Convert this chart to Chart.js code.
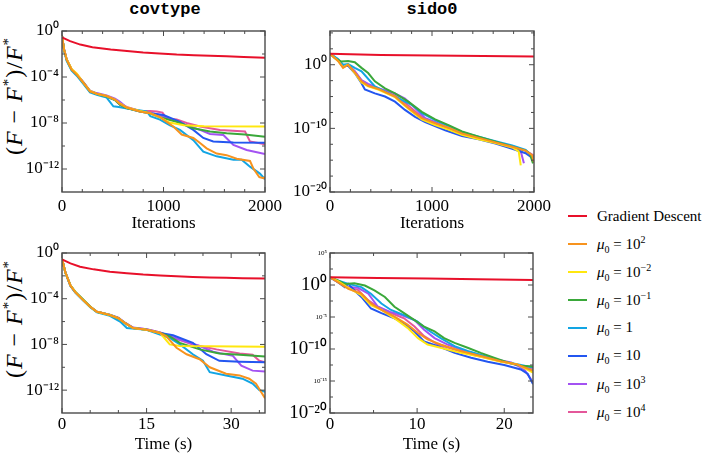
<!DOCTYPE html>
<html>
<head>
<meta charset="utf-8">
<script src="https://cdn.jsdelivr.net/npm/chart.js@4.4.1/dist/chart.umd.min.js"></script>
<style>
  html, body { margin: 0; padding: 0; background: #fff; }
  #fig { position: relative; width: 705px; height: 458px; overflow: hidden;
         font-family: 'Liberation Serif', 'Times New Roman', serif; color: #000; }
  .panel { position: absolute; }
  .ttl { position: absolute; top: 0; transform: translateX(-50%);
         font-family: 'Liberation Mono', monospace; font-size: 17px; font-weight: bold; }
  .ylab { position: absolute; font-size: 24px; letter-spacing: 1px; white-space: nowrap;
          transform: translate(-50%, -50%) rotate(-90deg); }
  .ylab sup { font-size: 15px; font-style: normal; }
  #legend { position: absolute; left: 568px; top: 202px; }
  .item { height: 28px; display: flex; align-items: center; font-size: 15px; white-space: nowrap; }
  .swatch { width: 19px; height: 2px; margin-right: 10px; }
  .item sup { font-size: 10px; }
  .item sub { font-size: 10px; }
</style>
</head>
<body>
<div id="fig">
  <div class="ttl" style="left:165px">covtype</div>
  <div class="ttl" style="left:432px">sido0</div>
  <div class="ylab" style="left:14px; top:96px">(<i>F</i> − <i>F</i><sup>*</sup>)/<i>F</i><sup>*</sup></div>
  <div class="ylab" style="left:14px; top:319px">(<i>F</i> − <i>F</i><sup>*</sup>)/<i>F</i><sup>*</sup></div>
  <canvas class="panel" id="tl" width="295" height="240" style="left:0;top:0"></canvas>
  <canvas class="panel" id="tr" width="295" height="240" style="left:272px;top:0"></canvas>
  <canvas class="panel" id="bl" width="295" height="236" style="left:0;top:222px"></canvas>
  <canvas class="panel" id="br" width="295" height="236" style="left:272px;top:222px"></canvas>
  <div id="legend"></div>
</div>
<script>
// ── series names + colours (legend order = draw order) ──
const seriesNames = ['Gradient Descent', '<i>μ</i><sub>0</sub> = 10<sup>2</sup>', '<i>μ</i><sub>0</sub> = 10<sup>−2</sup>',
  '<i>μ</i><sub>0</sub> = 10<sup>−1</sup>', '<i>μ</i><sub>0</sub> = 1', '<i>μ</i><sub>0</sub> = 10',
  '<i>μ</i><sub>0</sub> = 10<sup>3</sup>', '<i>μ</i><sub>0</sub> = 10<sup>4</sup>'];
const seriesColors = ['#e8102a', '#f7931e', '#ffe70f', '#3aa83a', '#12a5e3', '#2356f0', '#a352f2', '#e4579a'];

// ── covtype, vs iterations: [iteration, (F-F*)/F*] ──
const covIterGD = [[0,0.28],[80,0.13],[180,0.066],[300,0.039],[480,0.0245],[640,0.0178],[800,0.0132],[960,0.011],[1130,0.0089],[1300,0.0079],[1460,0.0069],[1620,0.0063],[1790,0.0056],[2000,0.0047]];
const covIterMu2 = [[0,0.4],[20,0.025],[46,3.2e-3],[95,4.4e-4],[145,1.6e-4],[210,3.2e-5],[276,5.6e-6],[342,3.5e-6],[440,2.2e-6],[522,1.1e-6],[571,4.5e-7],[637,2.2e-7],[768,1e-7],[867,7.1e-8],[965,3.2e-8],[1097,5e-9],[1179,1e-9],[1294,5e-10],[1360,1.8e-10],[1425,6.3e-11],[1524,2.2e-11],[1622,1.6e-11],[1721,7.9e-12],[1852,5e-12],[1885,1.1e-12],[1944,2e-13],[1984,1.6e-13],[2000,2e-13]];
const covIterMum2 = [[0,0.4],[20,0.025],[46,3.5e-3],[95,5e-4],[145,2e-4],[210,3.2e-5],[276,6.3e-6],[342,3.5e-6],[440,2.2e-6],[522,1.1e-6],[571,5e-7],[637,2.2e-7],[768,1.1e-7],[870,7.1e-8],[960,3.2e-8],[1060,1.1e-8],[1200,6.3e-9],[1400,5.2e-9],[2000,5e-9]];
const covIterMum1 = [[0,0.4],[20,0.025],[46,3.2e-3],[95,4.4e-4],[145,1.6e-4],[210,3.2e-5],[276,5.6e-6],[342,3.5e-6],[440,2e-6],[522,1e-6],[571,4e-7],[637,2e-7],[768,1e-7],[867,7.1e-8],[965,3.2e-8],[1130,1.26e-8],[1294,3.5e-9],[1458,1.8e-9],[1622,1.26e-9],[1800,1e-9],[2000,6.3e-10]];
const covIterMu1 = [[0,0.4],[20,0.02],[46,2.5e-3],[95,3.5e-4],[145,1.3e-4],[210,2.5e-5],[276,4.5e-6],[342,2.8e-6],[440,1.6e-6],[506,2.8e-7],[560,2.5e-7],[640,1.8e-7],[834,1e-7],[870,4e-8],[965,2e-8],[1064,6.3e-9],[1162,2.5e-9],[1294,3.2e-10],[1392,3.2e-11],[1524,1.26e-11],[1688,6.3e-12],[1770,6.3e-12],[1852,1.6e-12],[1950,4e-13],[2000,1.26e-13]];
const covIterMu10 = [[0,0.4],[20,0.025],[46,3.2e-3],[95,4.4e-4],[145,1.6e-4],[210,3.2e-5],[276,5.6e-6],[342,3.5e-6],[440,2e-6],[522,1e-6],[571,4e-7],[637,2e-7],[768,1e-7],[867,7.1e-8],[1000,5e-8],[1162,1.26e-8],[1294,2.5e-9],[1392,5e-10],[1490,2.5e-10],[1688,2e-10],[2000,1.9e-10]];
const covIterMu3 = [[0,0.4],[20,0.025],[46,3.2e-3],[95,4.4e-4],[145,1.6e-4],[210,3.5e-5],[276,6.3e-6],[342,4e-6],[440,2.5e-6],[522,1.3e-6],[571,7e-7],[637,2.2e-7],[768,1.1e-7],[867,7.9e-8],[965,5e-8],[1228,6.3e-9],[1360,2.5e-9],[1458,1.1e-9],[1590,8.9e-10],[1688,1.26e-10],[1819,4.5e-11],[2000,2e-11]];
const covIterMu4 = [[0,0.4],[20,0.028],[46,3.5e-3],[95,4.4e-4],[145,1.8e-4],[210,3.5e-5],[276,6.3e-6],[342,3.5e-6],[440,2.2e-6],[522,1.1e-6],[571,5e-7],[637,2.5e-7],[768,1.1e-7],[867,1.1e-7],[933,1e-7],[990,8e-8],[1030,2.5e-8],[1130,2e-8],[1228,1e-8],[1360,5e-9],[1557,2.5e-9],[1803,1.8e-9],[1852,2.5e-10],[2000,1.4e-10]];

// ── sido0, vs iterations ──
const sidoIterGD = [[0,55],[500,35],[1000,28],[1500,23],[2000,20]];
const sidoIterMu2 = [[0,55],[79,4],[128,0.32],[177,1],[243,0.063],[309,2.5e-3],[374,5e-4],[473,1.58e-4],[637,1e-5],[768,1.58e-7],[900,4e-9],[1031,6.3e-10],[1162,1.26e-10],[1294,1.58e-11],[1458,3.2e-12],[1622,6.3e-13],[1786,1.26e-13],[1918,3.2e-14],[1980,6.3e-15],[2000,5e-16]];
const sidoIterMum2 = [[0,55],[79,4],[128,0.4],[177,1],[243,0.05],[309,1.58e-3],[374,4e-4],[473,1.26e-4],[637,7.9e-6],[768,1.26e-7],[900,2.5e-9],[1031,3.2e-10],[1162,6.3e-11],[1294,1e-11],[1458,2e-12],[1622,5e-13],[1786,1e-13],[1850,2.5e-14],[1870,1.58e-16]];
const sidoIterMum1 = [[0,55],[46,11.2],[112,3.16],[177,4],[243,2.5],[309,0.32],[374,0.05],[440,2.5e-3],[539,2e-4],[637,3.2e-5],[768,1.58e-6],[900,4e-8],[1031,2.5e-9],[1162,3.2e-10],[1294,3.2e-11],[1458,5e-12],[1622,7.9e-13],[1786,1.26e-13],[1918,3.2e-14],[1960,1e-14],[1990,3.2e-16]];
const sidoIterMu1 = [[0,55],[79,7.9],[128,1],[177,1.26],[243,0.32],[309,0.089],[440,4e-4],[637,1e-5],[801,5e-7],[900,2.5e-8],[1031,2e-9],[1162,2.5e-10],[1294,2.5e-11],[1458,5e-12],[1622,1e-12],[1786,2e-13],[1918,4e-14],[2000,2.5e-15]];
const sidoIterMu10 = [[0,55],[79,6.3],[128,0.55],[177,0.69],[243,0.05],[309,1.26e-3],[342,1.26e-4],[440,3.2e-5],[539,1e-5],[637,1.58e-6],[735,7.9e-8],[834,6.3e-9],[933,1e-9],[1130,5e-11],[1294,6.3e-12],[1458,2e-12],[1622,4e-13],[1786,6.3e-14],[1918,1.26e-14],[1970,3.2e-15],[2000,1e-15]];
const sidoIterMu3 = [[0,55],[79,5],[128,0.5],[177,1],[243,0.1],[309,4e-3],[374,1e-3],[473,2e-4],[637,3.2e-5],[735,5e-6],[834,1.58e-7],[933,4e-9],[1031,1e-9],[1162,1.26e-10],[1294,1.58e-11],[1458,3.2e-12],[1622,7.9e-13],[1786,1.26e-13],[1870,2.5e-14],[1901,3.2e-16]];
const sidoIterMu4 = [[0,55],[79,5],[128,0.63],[177,1],[243,0.079],[309,3.2e-3],[374,6.3e-4],[473,1.58e-4],[637,1.58e-5],[768,4e-7],[900,6.3e-9],[1031,6.3e-10],[1162,1e-10],[1294,1.26e-11],[1458,3.2e-12],[1622,6.3e-13],[1786,1.58e-13],[1918,3.2e-14],[2000,5e-15]];

// ── covtype, vs time (s) ──
const covTimeGD = [[0,0.27],[1.5,0.123],[3.2,0.063],[5.6,0.037],[8.5,0.0234],[11.5,0.017],[14.4,0.0129],[17.4,0.0107],[20.3,0.0093],[23.2,0.0081],[26.2,0.0072],[29.1,0.0068],[32,0.0063],[36,0.0059]];
const covTimeMu2 = [[0,0.31],[0.6,1.95e-2],[1.5,1.38e-3],[2.35,3.7e-4],[3.8,7.2e-5],[5,1.95e-5],[6.2,7.2e-6],[7,6e-6],[8.5,3.7e-6],[10,1.95e-6],[11.2,7.2e-7],[12.6,2.7e-7],[15,1.95e-7],[17.4,1e-7],[18.5,5.1e-8],[20.3,5.1e-9],[22.1,1.38e-9],[24.4,5.1e-10],[26.2,1e-10],[29.1,2.7e-11],[31.5,1.95e-11],[33.2,1e-11],[34.4,3.7e-12],[36,1.95e-13]];
const covTimeMum2 = [[0,0.31],[0.6,1.95e-2],[1.5,1.5e-3],[2.35,4e-4],[3.8,7.2e-5],[5,1.95e-5],[6.2,7.2e-6],[8.5,3.7e-6],[10,1.95e-6],[11.2,7.2e-7],[12.6,2.7e-7],[15,1.95e-7],[17.4,1e-7],[19.1,1e-8],[20.9,7.2e-9],[36,6.3e-9]];
const covTimeMum1 = [[0,0.31],[0.6,1.95e-2],[1.5,1.5e-3],[2.35,4.2e-4],[3.8,8e-5],[5,2.1e-5],[6.2,7.2e-6],[8.5,3.7e-6],[10,1.95e-6],[11.2,7.2e-7],[12.6,2.7e-7],[15,1.95e-7],[17.4,1e-7],[19.1,5.1e-8],[20.9,1.38e-8],[24.4,3.7e-9],[27.9,1.58e-9],[31.5,1.23e-9],[36,8.7e-10]];
const covTimeMu1 = [[0,0.31],[0.6,1.8e-2],[1.5,1.26e-3],[2.35,3.4e-4],[3.8,6.5e-5],[5,1.8e-5],[6.2,6.3e-6],[8.5,3.2e-6],[10.3,1e-6],[11.5,2.7e-7],[15,1.95e-7],[19.1,3.7e-8],[20.9,1e-8],[23.2,1.38e-9],[25,3.7e-10],[26.2,3.7e-11],[29.1,1.95e-11],[32,1e-11],[33.8,3.7e-12],[35,1e-12],[36,7.2e-13]];
const covTimeMu10 = [[0,0.31],[0.6,1.95e-2],[1.5,1.38e-3],[2.35,3.7e-4],[3.8,7.2e-5],[5,1.95e-5],[6.2,7.2e-6],[8.5,3.7e-6],[10,1.95e-6],[11.2,7.2e-7],[12.6,2.7e-7],[15,1.95e-7],[17.4,1e-7],[19.7,6.3e-8],[23.2,1.38e-8],[25.6,1.38e-9],[27.9,3.7e-10],[31.5,3.1e-10],[36,2.7e-10]];
const covTimeMu3 = [[0,0.31],[0.6,1.95e-2],[1.5,1.38e-3],[2.35,3.7e-4],[3.8,7.2e-5],[5,1.95e-5],[6.2,7.2e-6],[8.5,4e-6],[10,2.2e-6],[11.2,8e-7],[12.6,3e-7],[15,2.1e-7],[17.4,1.1e-7],[19.1,5.5e-8],[20.9,2.7e-8],[24.4,7.2e-9],[26.8,2.3e-9],[30.3,1e-9],[31.8,1.38e-10],[33.8,5.1e-11],[36,4.3e-11]];
const covTimeMu4 = [[0,0.31],[0.6,2.1e-2],[1.5,1.5e-3],[2.35,3.7e-4],[3.8,7.2e-5],[5,1.95e-5],[6.2,7.2e-6],[8.5,3.7e-6],[10,1.95e-6],[11.2,7.2e-7],[12.6,2.9e-7],[15,2.1e-7],[17.4,1.1e-7],[19.7,3.7e-8],[23.2,1e-8],[27.4,3.7e-9],[31.5,1.58e-9],[33.8,1.23e-9],[35,3.7e-10],[36,2.7e-10]];

// ── sido0, vs time (s) ──
const sidoTimeGD = [[0,15.8],[5.5,12.6],[11.2,10],[17,7.9],[23.3,6.3]];
const sidoTimeMu2 = [[0,15.8],[0.9,2.75],[2.1,0.25],[3.6,0.044],[4.7,1.26e-3],[5.9,1.26e-4],[7.4,1.12e-5],[8.9,6.3e-7],[10.1,3.2e-8],[11.2,3.2e-9],[12.7,5e-10],[15,5e-11],[17.3,7.9e-12],[19.6,1.26e-12],[21.5,4e-13],[23.3,4e-14]];
const sidoTimeMum2 = [[0,15.8],[0.9,4],[2.1,0.36],[3.6,0.025],[4.7,7.1e-4],[5.9,1.26e-4],[7.4,6.3e-6],[8.9,2e-7],[10.1,5e-9],[11.2,5e-10],[12.7,1.58e-10],[15,2.5e-11],[17.3,6.3e-12],[19.6,1e-12],[21.5,4e-13],[23.3,2e-14]];
const sidoTimeMum1 = [[0,15.8],[0.9,5],[1.7,1.5],[2.8,1.9],[4,0.83],[5.1,0.14],[6.3,0.0135],[7.4,4e-4],[8.5,4e-5],[9.7,3.2e-6],[10.8,3.2e-7],[12,5.5e-8],[13.1,5e-9],[14.3,8.9e-10],[15.8,1.58e-10],[17.3,2.5e-11],[18.9,4e-12],[20.4,7.9e-13],[21.9,2.5e-13],[23.3,1.78e-13]];
const sidoTimeMu1 = [[0,15.8],[0.9,5],[2.1,1.5],[3.6,0.47],[4.7,0.044],[5.9,1.26e-3],[7,1.26e-4],[8.5,2e-5],[10,2e-6],[11.2,1e-7],[12.7,5e-9],[14.3,2.75e-10],[15.8,5e-11],[17.7,7.9e-12],[19.6,1.26e-12],[21.5,4e-13],[23.3,1.26e-13]];
const sidoTimeMu10 = [[0,15.8],[0.9,2.75],[1.7,0.47],[2.1,1.5],[2.8,0.14],[3.6,0.0135],[4.7,2.1e-4],[5.9,4e-5],[7.4,6.3e-6],[8.5,1e-6],[9.7,5.5e-8],[10.8,1.58e-9],[12.4,2.75e-10],[14.3,2.5e-11],[16.2,4.4e-12],[18.1,1e-12],[20,3.2e-13],[21.9,6.3e-14],[22.7,1.26e-14],[23.3,3.2e-16]];
const sidoTimeMu3 = [[0,15.8],[0.9,2.75],[2.1,0.47],[3.2,0.36],[4.4,0.044],[5.5,4e-4],[6.9,6.3e-5],[8.2,2e-5],[9.7,3.2e-6],[10.8,1e-7],[12,5e-9],[13.5,5e-10],[15,7.9e-11],[16.9,1.58e-11],[18.9,2.5e-12],[20.8,7.9e-13],[22.3,6.3e-14],[23.3,6.3e-16]];
const sidoTimeMu4 = [[0,15.8],[0.9,4],[2.1,0.36],[3.2,0.178],[4.4,4e-3],[5.5,4e-4],[7,4e-5],[8.5,6.3e-6],[9.7,3.2e-7],[10.8,1e-8],[12.4,5e-10],[14.3,7.9e-11],[16.6,1e-11],[18.9,2e-12],[21.1,4e-13],[23.3,6.3e-14]];

// ── tick values ──
const iterTicks = [0, 1000, 2000];
const iterMinor = [200, 400, 600, 800, 1200, 1400, 1600, 1800];
const covTimeTicks = [0, 15, 30];
const covTimeMinor = [5, 10, 20, 25, 35];
const sidoTimeTicks = [0, 10, 20];
const sidoTimeMinor = [5, 15];
const covYTicks = [1, 1e-4, 1e-8, 1e-12];
const covYMinor = [1e-2, 1e-6, 1e-10];
const sidoYTicks = [1, 1e-10, 1e-20];
const sidoYMinor = [1e5, 316, 3.16e-3, 1e-5, 3.16e-8, 3.16e-13, 1e-15, 3.16e-18];
const sidoTimeYTicks = [1e5, 1, 1e-5, 1e-10, 1e-15, 1e-20];
const sidoTimeYMinor = [316, 3.16e-3, 3.16e-8, 3.16e-13, 3.16e-18];

const SERIF = "'Liberation Serif', 'Times New Roman', serif";
const SUP = {'-':'⁻','0':'⁰','1':'¹','2':'²','3':'³','4':'⁴','5':'⁵','6':'⁶','7':'⁷','8':'⁸','9':'⁹'};
function powLabel(v) {
  return '10' + String(Math.round(Math.log10(v))).split('').map(c => SUP[c]).join('');
}

// frame + inward tick marks on all four sides (Mathematica style)
function framePlugin(t) {
  return {
    id: 'frame',
    afterDatasetsDraw(chart) {
      const { ctx, chartArea: a } = chart;
      ctx.save();
      ctx.strokeStyle = '#4a4a4a';
      ctx.lineWidth = 1.4;
      ctx.strokeRect(a.left, a.top, a.right - a.left, a.bottom - a.top);
      ctx.restore();
      try {
        const sx = chart.scales.x, sy = chart.scales.y;
        ctx.save();
        ctx.strokeStyle = '#4a4a4a';
        ctx.lineWidth = 1;
        ctx.beginPath();
        t.xMajor.map(v => [v, 5]).concat(t.xMinor.map(v => [v, 3])).forEach(([v, len]) => {
          const px = sx.getPixelForValue(v);
          ctx.moveTo(px, a.bottom); ctx.lineTo(px, a.bottom - len);
          ctx.moveTo(px, a.top); ctx.lineTo(px, a.top + len);
        });
        t.yMajor.map(v => [v, 5]).concat(t.yMinor.map(v => [v, 3])).forEach(([v, len]) => {
          const py = sy.getPixelForValue(v);
          ctx.moveTo(a.left, py); ctx.lineTo(a.left + len, py);
          ctx.moveTo(a.right, py); ctx.lineTo(a.right - len, py);
        });
        ctx.stroke();
        ctx.restore();
      } catch (e) { ctx.restore(); }
    }
  };
}

function makePanel(id, p) {
  const canvas = document.getElementById(id);
  return new Chart(canvas.getContext('2d'), {
    type: 'line',
    data: {
      datasets: p.series.map((s, i) => ({
        label: seriesNames[i], data: s.map(([x, y]) => ({ x, y })),
        borderColor: seriesColors[i], borderWidth: 2, pointRadius: 0, tension: 0, fill: false
      }))
    },
    options: {
      responsive: false, animation: false, events: [],
      layout: { padding: { top: 31, right: p.padRight, left: 0, bottom: 0 } },
      plugins: { legend: { display: false }, tooltip: { enabled: false } },
      scales: {
        x: {
          type: 'linear', min: p.xMin, max: p.xMax,
          afterBuildTicks: ax => { ax.ticks = p.xTicks.map(v => ({ value: v })); },
          afterFit: ax => { ax.height = p.xHeight; ax.paddingLeft = 0; ax.paddingRight = 0; },
          grid: { display: false, drawTicks: false }, border: { display: false },
          ticks: { font: { family: SERIF, size: 17 }, color: '#000', padding: p.xPad,
                   maxRotation: 0, autoSkip: false, callback: v => String(v) },
          title: { display: true, text: p.xTitle, color: '#000',
                   font: { family: SERIF, size: 17 }, padding: { top: 0, bottom: p.titlePad } }
        },
        y: {
          type: 'logarithmic', min: p.yMin, max: p.yMax,
          afterBuildTicks: ax => { ax.ticks = p.yTicks.map(v => ({ value: v })); },
          afterFit: ax => { ax.width = p.yWidth; ax.paddingTop = 0; ax.paddingBottom = 0; },
          grid: { display: false, drawTicks: false }, border: { display: false },
          ticks: { font: p.yFont || { family: SERIF, size: 17 }, color: '#000', padding: 3,
                   autoSkip: false, callback: v => powLabel(v) }
        }
      }
    },
    plugins: [framePlugin({ xMajor: p.xTicks, xMinor: p.xMinor, yMajor: p.yTicks, yMinor: p.yMinor })]
  });
}

makePanel('tl', {
  series: [covIterGD, covIterMu2, covIterMum2, covIterMum1, covIterMu1, covIterMu10, covIterMu3, covIterMu4],
  xMin: 0, xMax: 2000, xTicks: iterTicks, xMinor: iterMinor,
  yMin: 1e-14, yMax: 1, yTicks: covYTicks, yMinor: covYMinor,
  padRight: 30, yWidth: 62, xHeight: 48, xPad: 4, titlePad: 6, xTitle: 'Iterations'
});
makePanel('tr', {
  series: [sidoIterGD, sidoIterMu2, sidoIterMum2, sidoIterMum1, sidoIterMu1, sidoIterMu10, sidoIterMu3, sidoIterMu4],
  xMin: 0, xMax: 2000, xTicks: iterTicks, xMinor: iterMinor,
  yMin: 1e-20, yMax: 2e5, yTicks: sidoYTicks, yMinor: sidoYMinor,
  padRight: 33, yWidth: 58, xHeight: 48, xPad: 4, titlePad: 6, xTitle: 'Iterations'
});
makePanel('bl', {
  series: [covTimeGD, covTimeMu2, covTimeMum2, covTimeMum1, covTimeMu1, covTimeMu10, covTimeMu3, covTimeMu4],
  xMin: 0, xMax: 36, xTicks: covTimeTicks, xMinor: covTimeMinor,
  yMin: 1e-14, yMax: 1, yTicks: covYTicks, yMinor: covYMinor,
  padRight: 30, yWidth: 62, xHeight: 45, xPad: 1, titlePad: 3, xTitle: 'Time (s)'
});
makePanel('br', {
  series: [sidoTimeGD, sidoTimeMu2, sidoTimeMum2, sidoTimeMum1, sidoTimeMu1, sidoTimeMu10, sidoTimeMu3, sidoTimeMu4],
  xMin: 0, xMax: 23.3, xTicks: sidoTimeTicks, xMinor: sidoTimeMinor,
  yMin: 1e-20, yMax: 1e5, yTicks: sidoTimeYTicks, yMinor: sidoTimeYMinor,
  padRight: 34, yWidth: 58, xHeight: 45, xPad: 1, titlePad: 3, xTitle: 'Time (s)',
  yFont: ctx => ({ family: SERIF, size: Math.round(Math.log10(ctx.tick.value)) % 10 === 0 ? 19 : 7 })
});

// legend
document.getElementById('legend').innerHTML = seriesNames.map((n, i) =>
  `<div class="item"><span class="swatch" style="background:${seriesColors[i]}"></span><span>${n}</span></div>`
).join('');
</script>
</body>
</html>
